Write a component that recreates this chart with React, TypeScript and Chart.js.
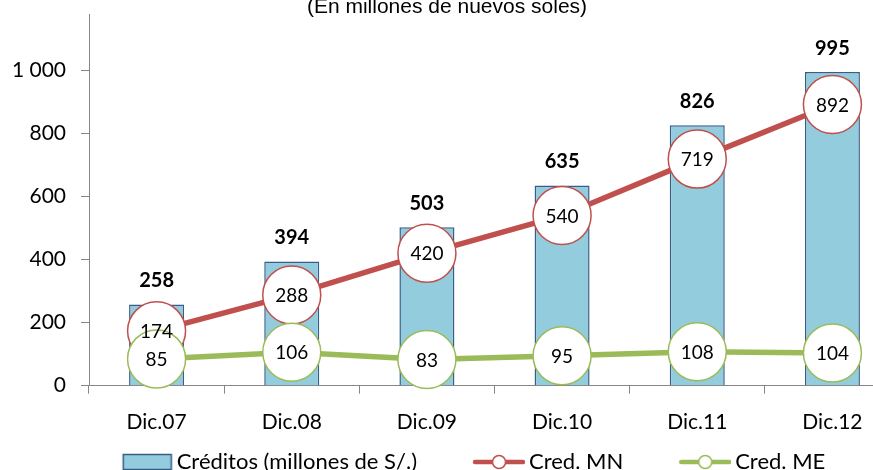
import React, { useEffect, useRef } from 'react';
import { Chart, registerables } from 'chart.js';

Chart.register(...registerables);

const categories = ['Dic.07', 'Dic.08', 'Dic.09', 'Dic.10', 'Dic.11', 'Dic.12'];
const creditos = [258, 394, 503, 635, 826, 995];
const credMN = [174, 288, 420, 540, 719, 892];
const credME = [85, 106, 83, 95, 108, 104];
const yMin = 0;
const yMax = 1200;
const yStep = 200;
const titleText = '(En millones de nuevos soles)';
const legendLabels = ['Créditos (millones de S/.)', 'Cred. MN', 'Cred. ME'];

const BAR_FILL = '#93CDDD';
const BAR_BORDER = '#385D8A';
const RED = '#C0504D';
const GREEN = '#9BBB59';
const AXIS = '#868686';
const FONT = 'Lato, "Open Sans", sans-serif';

const CANVAS_W = 900;
const CANVAS_H = 483;
const LEGEND_FONT = 22;
const LEGEND_BOX_W = 91;
const ICON_W = LEGEND_BOX_W + 14;

function fmt(v: number): string {
  return String(v).replace(/\B(?=(\d{3})+(?!\d))/g, ' ');
}

function makeBarIcon(): HTMLCanvasElement {
  const c = document.createElement('canvas');
  c.width = ICON_W;
  c.height = 18;
  const ctx = c.getContext('2d')!;
  ctx.fillStyle = BAR_FILL;
  ctx.fillRect(ICON_W - 49.5, 1.5, 48, 15);
  ctx.strokeStyle = BAR_BORDER;
  ctx.lineWidth = 1.5;
  ctx.strokeRect(ICON_W - 49.5, 1.5, 48, 15);
  return c;
}

function makeLineIcon(color: string): HTMLCanvasElement {
  const c = document.createElement('canvas');
  c.width = ICON_W;
  c.height = 18;
  const ctx = c.getContext('2d')!;
  ctx.strokeStyle = color;
  ctx.lineWidth = 4.5;
  ctx.lineCap = 'round';
  ctx.beginPath();
  ctx.moveTo(ICON_W - 50, 9);
  ctx.lineTo(ICON_W - 2, 9);
  ctx.stroke();
  ctx.beginPath();
  ctx.arc(ICON_W - 26, 9, 6.5, 0, Math.PI * 2);
  ctx.fillStyle = '#fff';
  ctx.fill();
  ctx.lineWidth = 1.5;
  ctx.stroke();
  return c;
}

const valueLabels = {
  id: 'valueLabels',
  afterDatasetsDraw(chart: any) {
    const ctx = chart.ctx;
    ctx.save();
    ctx.fillStyle = '#000';
    ctx.textAlign = 'center';
    ctx.textBaseline = 'middle';
    const barMeta = chart.getDatasetMeta(0);
    ctx.font = `bold 20px ${FONT}`;
    barMeta.data.forEach((el: any, i: number) => {
      ctx.fillText(String(creditos[i]), el.x, el.y - 24);
    });
    ctx.font = `19px ${FONT}`;
    [1, 2].forEach((di) => {
      const meta = chart.getDatasetMeta(di);
      const vals = di === 1 ? credMN : credME;
      meta.data.forEach((el: any, i: number) => {
        ctx.fillText(String(vals[i]), el.x, el.y + 1);
      });
    });
    ctx.restore();
  },
};

const topTitle = {
  id: 'topTitle',
  afterDraw(chart: any) {
    const ctx = chart.ctx;
    ctx.save();
    ctx.fillStyle = '#fff';
    ctx.fillRect(0, 0, chart.width, 14);
    ctx.fillStyle = '#000';
    ctx.font = '21px "Liberation Sans", Arial, sans-serif';
    ctx.textAlign = 'center';
    ctx.textBaseline = 'alphabetic';
    ctx.fillText(titleText, 447, 13);
    ctx.restore();
  },
};

export default function App() {
  const ref = useRef<HTMLCanvasElement>(null);

  useEffect(() => {
    const canvas = ref.current!;
    const barIcon = makeBarIcon();
    const mnIcon = makeLineIcon(RED);
    const meIcon = makeLineIcon(GREEN);

    const chart = new Chart(canvas, {
      type: 'bar',
      data: {
        labels: categories,
        datasets: [
          {
            type: 'bar',
            label: legendLabels[0],
            data: creditos,
            backgroundColor: BAR_FILL,
            borderColor: BAR_BORDER,
            borderWidth: 1.5,
            barPercentage: 0.407,
            categoryPercentage: 1,
            order: 3,
          } as any,
          {
            type: 'line',
            label: legendLabels[1],
            data: credMN,
            borderColor: RED,
            borderWidth: 5.5,
            pointRadius: 29,
            pointHoverRadius: 29,
            pointBackgroundColor: '#fff',
            pointBorderColor: RED,
            pointBorderWidth: 1.5,
            tension: 0,
            order: 2,
            clip: false,
          } as any,
          {
            type: 'line',
            label: legendLabels[2],
            data: credME,
            borderColor: GREEN,
            borderWidth: 5.5,
            pointRadius: 29,
            pointHoverRadius: 29,
            pointBackgroundColor: '#fff',
            pointBorderColor: GREEN,
            pointBorderWidth: 1.5,
            tension: 0,
            order: 1,
            clip: false,
          } as any,
        ],
      },
      options: {
        responsive: false,
        animation: false,
        events: [],
        layout: { padding: 0, autoPadding: false },
        scales: {
          x: {
            offset: true,
            grid: {
              display: true,
              offset: true,
              drawOnChartArea: false,
              drawTicks: true,
              tickLength: 8,
              color: AXIS,
              lineWidth: 1,
            },
            border: { display: true, color: AXIS, width: 1 },
            ticks: {
              color: '#000',
              font: { family: FONT, size: 21, lineHeight: 1 },
              padding: 18,
              maxRotation: 0,
              autoSkip: false,
            },
            afterFit: (s: any) => {
              s.height = 55.3;
            },
          },
          y: {
            min: yMin,
            max: yMax,
            grid: {
              display: true,
              drawOnChartArea: false,
              drawTicks: true,
              tickLength: 8,
              color: AXIS,
              lineWidth: 1,
            },
            border: { display: true, color: AXIS, width: 1 },
            ticks: {
              stepSize: yStep,
              color: '#000',
              font: { family: FONT, size: 21, lineHeight: 0.72 },
              padding: 15,
              callback: (v: any) => fmt(Number(v)),
            },
            afterFit: (s: any) => {
              s.width = 89;
              s.paddingTop = 7.5;
            },
          },
        },
        plugins: {
          title: { display: false },
          tooltip: { enabled: false },
          legend: {
            display: true,
            position: 'bottom',
            align: 'center',
            labels: {
              usePointStyle: true,
              pointStyleWidth: LEGEND_BOX_W,
              padding: 10,
              color: '#000',
              font: { family: FONT, size: LEGEND_FONT },
              generateLabels: () => [
                { text: legendLabels[0], pointStyle: barIcon, fillStyle: BAR_FILL, strokeStyle: BAR_BORDER, lineWidth: 0, hidden: false, datasetIndex: 0, fontColor: '#000' },
                { text: legendLabels[1], pointStyle: mnIcon, fillStyle: '#fff', strokeStyle: RED, lineWidth: 0, hidden: false, datasetIndex: 1, fontColor: '#000' },
                { text: legendLabels[2], pointStyle: meIcon, fillStyle: '#fff', strokeStyle: GREEN, lineWidth: 0, hidden: false, datasetIndex: 2, fontColor: '#000' },
              ] as any,
            },
          },
        },
      } as any,
      plugins: [valueLabels, topTitle],
    });

    return () => chart.destroy();
  }, []);

  return (
    <div
      style={{
        position: 'fixed',
        left: 0,
        top: 0,
        width: 873,
        height: 470,
        overflow: 'hidden',
        background: '#fff',
      }}
    >
      <canvas
        ref={ref}
        width={CANVAS_W}
        height={CANVAS_H}
        style={{ display: 'block', width: CANVAS_W, height: CANVAS_H }}
      />
    </div>
  );
}
